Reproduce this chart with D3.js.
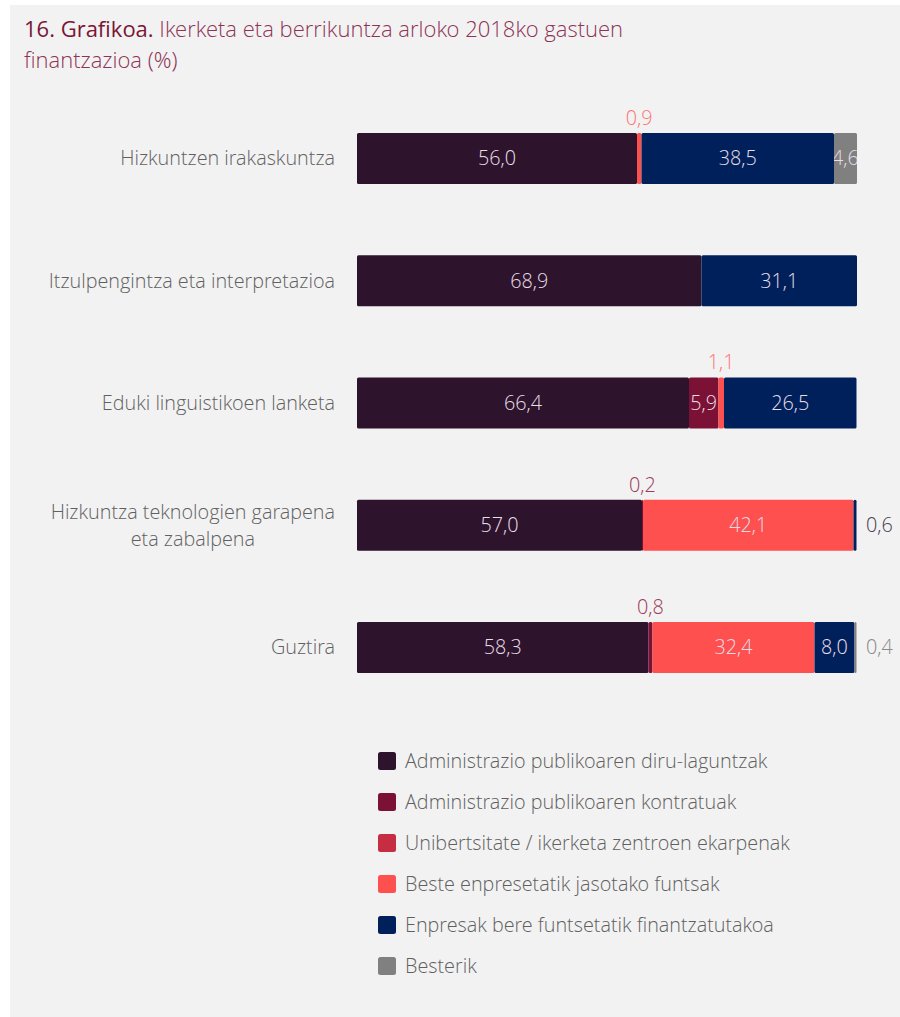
<!DOCTYPE html>
<html>
<head>
  <meta charset="utf-8">
  <script src="https://d3js.org/d3.v7.min.js"></script>
  <style type="text/css">
    body { margin: 0; background: #ffffff; }
    svg text { font-family: "Open Sans Light", "Open Sans", "Segoe UI", sans-serif; font-weight: 300; }
    svg text tspan.lead { font-family: "Open Sans", "Segoe UI", sans-serif; font-weight: 400; }
  </style>
</head>
<body>
  <script type="text/javascript">
    // Data
    var categories = [
      ["Hizkuntzen irakaskuntza"],
      ["Itzulpengintza eta interpretazioa"],
      ["Eduki linguistikoen lanketa"],
      ["Hizkuntza teknologien garapena", "eta zabalpena"],
      ["Guztira"]
    ];
    var seriesNames = [
      "Administrazio publikoaren diru-laguntzak",
      "Administrazio publikoaren kontratuak",
      "Unibertsitate / ikerketa zentroen ekarpenak",
      "Beste enpresetatik jasotako funtsak",
      "Enpresak bere funtsetatik finantzatutakoa",
      "Besterik"
    ];
    var diruLaguntzak = [56.0, 68.9, 66.4, 57.0, 58.3];
    var kontratuak    = [0,    0,    5.9,  0.2,  0.8];
    var unibertsitate = [0,    0,    0,    0,    0];
    var besteEnpresak = [0.9,  0,    1.1,  42.1, 32.4];
    var enpresak      = [38.5, 31.1, 26.5, 0.6,  8.0];
    var besterik      = [4.6,  0,    0,    0,    0.4];
    var seriesValues = [diruLaguntzak, kontratuak, unibertsitate, besteEnpresak, enpresak, besterik];

    // Styles
    var colors = ["#2d132c", "#7b1235", "#c62d42", "#ff5050", "#00205c", "#808080"];
    var outerLabelColors = ["#2d132c", "#9e3a5b", "#d04a5c", "#ff7575", "#4a3f55", "#8a8a8a"];
    var fontSize = 19.8;
    var textGray = "#606060";

    var width = 900, height = 1017;
    var svg = d3.select("body").append("svg")
        .attr("width", width)
        .attr("height", height);

    svg.append("rect")
        .attr("x", 10).attr("y", 5)
        .attr("width", width - 10).attr("height", height - 5)
        .attr("fill", "#f2f2f2");

    // Title
    var title = svg.append("text")
        .attr("x", 24).attr("y", 37)
        .attr("font-size", 22);
    title.append("tspan")
        .attr("class", "lead")
        .attr("fill", "#7a1535")
        .text("16. Grafikoa.");
    title.append("tspan")
        .attr("fill", "#8e3355")
        .text(" Ikerketa eta berrikuntza arloko 2018ko gastuen");
    svg.append("text")
        .attr("x", 24).attr("y", 68)
        .attr("font-size", 22)
        .attr("fill", "#8e3355")
        .text("finantzazioa (%)");

    // Scales
    var x = d3.scaleLinear().domain([0, 100]).range([357, 857]);
    var y = d3.scaleBand()
        .domain(d3.range(categories.length))
        .range([96.3, 709.6])
        .paddingInner(0.583)
        .paddingOuter(0.3);

    // Build stacked rows
    var rows = categories.map(function(c, i) {
      var acc = 0;
      var segs = seriesValues.map(function(vals, s) {
        var seg = { row: i, series: s, v: vals[i], x0: acc, x1: acc + vals[i] };
        acc += vals[i];
        return seg;
      }).filter(function(d) { return d.v > 0; });
      return { label: c, segs: segs };
    });

    var defs = svg.append("defs");

    // Category labels
    rows.forEach(function(r, i) {
      var cy = y(i) + y.bandwidth() / 2;
      if (r.label.length === 1) {
        svg.append("text")
          .attr("x", 335).attr("y", cy)
          .attr("dy", "0.35em")
          .attr("text-anchor", "end")
          .attr("font-size", fontSize)
          .attr("fill", textGray)
          .text(r.label[0]);
      } else {
        var t1 = svg.append("text")
          .attr("x", 335).attr("y", cy - 13.5)
          .attr("dy", "0.35em")
          .attr("text-anchor", "end")
          .attr("font-size", fontSize)
          .attr("fill", textGray)
          .text(r.label[0]);
        var bb = t1.node().getBBox();
        svg.append("text")
          .attr("x", bb.x + bb.width / 2).attr("y", cy + 13.5)
          .attr("dy", "0.35em")
          .attr("text-anchor", "middle")
          .attr("font-size", fontSize)
          .attr("fill", textGray)
          .text(r.label[1]);
      }
    });

    var fmt = function(v) { return v.toFixed(1).replace(".", ","); };

    // Bars
    rows.forEach(function(r, i) {
      var g = svg.append("g");
      var last = r.segs[r.segs.length - 1];
      r.segs.forEach(function(d, k) {
        var x0 = x(d.x0), w = x(d.x1) - x(d.x0);
        g.append("rect")
          .attr("x", x0).attr("y", y(i))
          .attr("width", w).attr("height", y.bandwidth())
          .attr("rx", 1.5)
          .attr("fill", colors[d.series]);

        var cx = x0 + w / 2, cy = y(i) + y.bandwidth() / 2;
        if (d.v >= 3) {
          var id = "clip-" + i + "-" + k;
          defs.append("clipPath").attr("id", id)
            .append("rect")
            .attr("x", x0).attr("y", y(i))
            .attr("width", w).attr("height", y.bandwidth());
          g.append("text")
            .attr("x", cx).attr("y", cy)
            .attr("dy", "0.35em")
            .attr("text-anchor", "middle")
            .attr("font-size", fontSize)
            .attr("fill", "#e6dde6")
            .attr("clip-path", "url(#" + id + ")")
            .text(fmt(d.v));
        } else if (d === last) {
          g.append("text")
            .attr("x", x(100) + 9).attr("y", cy)
            .attr("dy", "0.35em")
            .attr("font-size", fontSize)
            .attr("fill", outerLabelColors[d.series])
            .text(fmt(d.v));
        } else {
          g.append("text")
            .attr("x", cx).attr("y", y(i) - 8)
            .attr("text-anchor", "middle")
            .attr("font-size", fontSize)
            .attr("fill", outerLabelColors[d.series])
            .text(fmt(d.v));
        }
      });
    });

    // Legend
    var legend = svg.append("g").attr("transform", "translate(378,752)");
    seriesNames.forEach(function(name, s) {
      var lg = legend.append("g").attr("transform", "translate(0," + (s * 41) + ")");
      lg.append("rect")
        .attr("width", 18).attr("height", 18)
        .attr("rx", 2.5)
        .attr("fill", colors[s]);
      lg.append("text")
        .attr("x", 27).attr("y", 9)
        .attr("dy", "0.35em")
        .attr("font-size", fontSize)
        .attr("fill", textGray)
        .text(name);
    });
  </script>
</body>
</html>
